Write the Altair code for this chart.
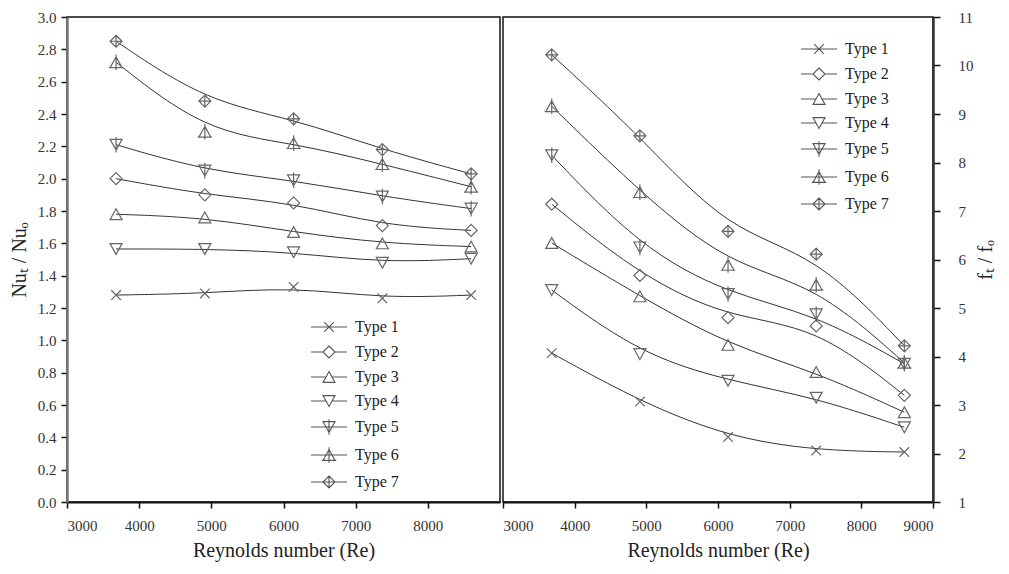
import altair as alt
import pandas as pd

re_values = [3680, 4910, 6140, 7370, 8600]
types = ["Type 1", "Type 2", "Type 3", "Type 4", "Type 5", "Type 6", "Type 7"]

nu_type1 = [1.28, 1.29, 1.33, 1.26, 1.28]
nu_type2 = [2.00, 1.90, 1.85, 1.71, 1.68]
nu_type3 = [1.78, 1.76, 1.67, 1.60, 1.58]
nu_type4 = [1.565, 1.565, 1.545, 1.48, 1.505]
nu_type5 = [2.21, 2.05, 1.99, 1.89, 1.815]
nu_type6 = [2.72, 2.29, 2.22, 2.09, 1.95]
nu_type7 = [2.85, 2.48, 2.37, 2.18, 2.03]

f_type1 = [4.07, 3.07, 2.34, 2.06, 2.03]
f_type2 = [7.14, 5.67, 4.80, 4.63, 3.20]
f_type3 = [6.34, 5.24, 4.24, 3.68, 2.85]
f_type4 = [5.37, 4.05, 3.50, 3.15, 2.54]
f_type5 = [8.15, 6.25, 5.29, 4.87, 3.85]
f_type6 = [9.16, 7.39, 5.89, 5.48, 3.87]
f_type7 = [10.22, 8.55, 6.58, 6.11, 4.22]

nu_series = [nu_type1, nu_type2, nu_type3, nu_type4, nu_type5, nu_type6, nu_type7]
f_series = [f_type1, f_type2, f_type3, f_type4, f_type5, f_type6, f_type7]

# marker shapes (custom SVG paths in unit box)
tri_up = "M0,-0.9L1,0.9L-1,0.9Z"
tri_dn = "M0,0.9L1,-0.9L-1,-0.9Z"
diamond = "M0,-1L1,0L0,1L-1,0Z"
cross = "M-0.8,-0.8L0.8,0.8M-0.8,0.8L0.8,-0.8"
marker_paths = [
    cross,
    diamond,
    tri_up,
    tri_dn,
    tri_dn + "M0,-1.3V1.3",
    tri_up + "M0,-1.3V1.3M-1.2,0.9H1.2",
    diamond + "M-1,0H1M0,-1V1",
]
legend_paths = [
    "M-3,0H3" + cross,
    "M-3,0H-1M1,0H3" + diamond,
    "M-3,0H-0.5M0.5,0H3" + tri_up,
    "M-3,0H-0.5M0.5,0H3" + tri_dn,
    "M-3,0H3" + marker_paths[4],
    "M-3,0H3" + marker_paths[5],
    "M-3,0H-1M1,0H3" + marker_paths[6],
]

rows = []
for t, nu, f in zip(types, nu_series, f_series):
    for r, a, b in zip(re_values, nu, f):
        rows.append({"Type": t, "Re": r, "Nu": a, "F": b})
df = pd.DataFrame(rows)

FONT = "Liberation Serif, Times New Roman, serif"


def panel(field, ydomain, yvalues, yfmt, ytitle, orient, xvalues, legend_x, legend_y, width):
    base = alt.Chart(df)
    x = alt.X(
        "Re:Q",
        scale=alt.Scale(domain=[3000, 9000], nice=False, zero=False),
        axis=alt.Axis(
            values=xvalues, format="d", title="Reynolds number (Re)",
            tickSize=6, labelPadding=10, titlePadding=7,
            domainColor="#111", domainWidth=2, tickColor="#111", tickWidth=1.5,
        ),
    )
    y = alt.Y(
        f"{field}:Q",
        scale=alt.Scale(domain=ydomain, nice=False, zero=False),
        axis=alt.Axis(
            values=yvalues, format=yfmt, title=ytitle, orient=orient,
            tickSize=6 if orient == "left" else 7,
            labelPadding=5 if orient == "left" else 18,
            titlePadding=8 if orient == "left" else 22,
            titleAngle=270,
            domainColor="#777" if orient == "left" else "#333",
            domainWidth=2.5, tickColor="#111", tickWidth=1.5,
        ),
    )
    lines = base.mark_line(interpolate="basis", color="#333", strokeWidth=1).encode(
        x=x, y=y, detail="Type:N"
    )
    pts = base.mark_point(filled=False, size=144, color="#666", strokeWidth=1.2, opacity=1).encode(
        x=x, y=y,
        shape=alt.Shape("Type:N", scale=alt.Scale(domain=types, range=marker_paths), legend=None),
    )
    leg = base.transform_filter("datum.Re < 0").mark_point(
        filled=False, size=144, color="#555", strokeWidth=1.1, opacity=1
    ).encode(
        x=x, y=y,
        shape=alt.Shape(
            "Type:N",
            scale=alt.Scale(domain=types, range=legend_paths),
            legend=alt.Legend(
                title=None, orient="none", legendX=legend_x, legendY=legend_y,
                symbolSize=144, labelFont=FONT, labelFontSize=16, labelColor="#222",
                labelOffset=18, rowPadding=8, symbolStrokeWidth=1.1,
            ),
        ),
    )
    return alt.layer(lines, pts, leg).resolve_scale(shape="independent").properties(
        width=width, height=485
    )


left = panel(
    "Nu", [0, 3], [round(i * 0.2, 1) for i in range(16)], ".1f", "Nuₜ  /  Nuₒ", "left",
    [3000, 4000, 5000, 6000, 7000, 8000], 254, 302, 433,
)
right = panel(
    "F", [1, 11], list(range(1, 12)), "d", "fₜ  /  fₒ", "right",
    [3000, 4000, 5000, 6000, 7000, 8000, 9000], 308, 24, 430,
)

chart = (
    alt.hconcat(left, right, spacing=0)
    .resolve_scale(shape="independent")
    .resolve_legend(shape="independent")
    .configure_view(stroke="#111", strokeWidth=1.5)
    .configure_axis(
        grid=False, labelFont=FONT, labelFontSize=15, labelColor="#333",
        titleFont=FONT, titleFontSize=20, titleFontWeight="normal", titleColor="#222",
    )
    .properties(padding={"left": 8, "top": 9, "right": 2, "bottom": 5}, background="white")
)

chart.save("out.html", embed_options={"renderer": "svg", "actions": False})
